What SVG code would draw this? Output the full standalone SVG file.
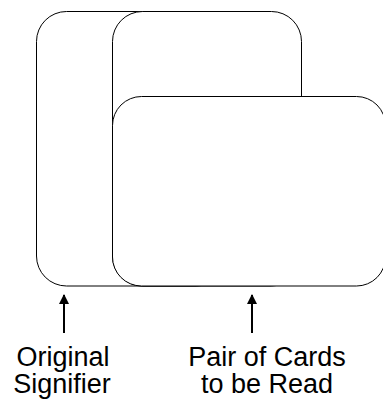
<svg xmlns="http://www.w3.org/2000/svg" width="383" height="402" viewBox="0 0 383 402">
<style>
.card{fill:#fff;stroke:#000;stroke-width:1}
.lbl{font-family:"Liberation Sans",Arial,sans-serif;font-size:27px;fill:#000;text-anchor:middle}
.arr{stroke:#000;stroke-width:2;fill:none}
</style>
<defs>
<marker id="ah" markerWidth="10" markerHeight="10" refX="9" refY="5" orient="auto" markerUnits="userSpaceOnUse">
<path d="M0,0 L10,5 L0,10 Z" fill="#000"/>
</marker>
</defs>
<rect width="383" height="402" fill="#fff"/>
<g id="card1"><rect class="card" x="36.5" y="11.5" width="190" height="274.5" rx="30" ry="30"/></g>
<g id="card2"><rect class="card" x="112.5" y="11.5" width="189" height="274.5" rx="30" ry="30"/></g>
<g id="card3"><rect class="card" x="112.5" y="96.5" width="273" height="189.5" rx="29" ry="29"/></g>
<g id="connectors">
<line class="arr" x1="64" y1="333" x2="64" y2="295" marker-end="url(#ah)"/>
<line class="arr" x1="252" y1="333" x2="252" y2="295" marker-end="url(#ah)"/>
</g>
<g id="label1"><text class="lbl" x="63" y="366">Original</text><text class="lbl" x="62" y="393">Signifier</text></g>
<g id="label2"><text class="lbl" x="267" y="366">Pair of Cards</text><text class="lbl" x="267" y="393">to be Read</text></g>
</svg>
